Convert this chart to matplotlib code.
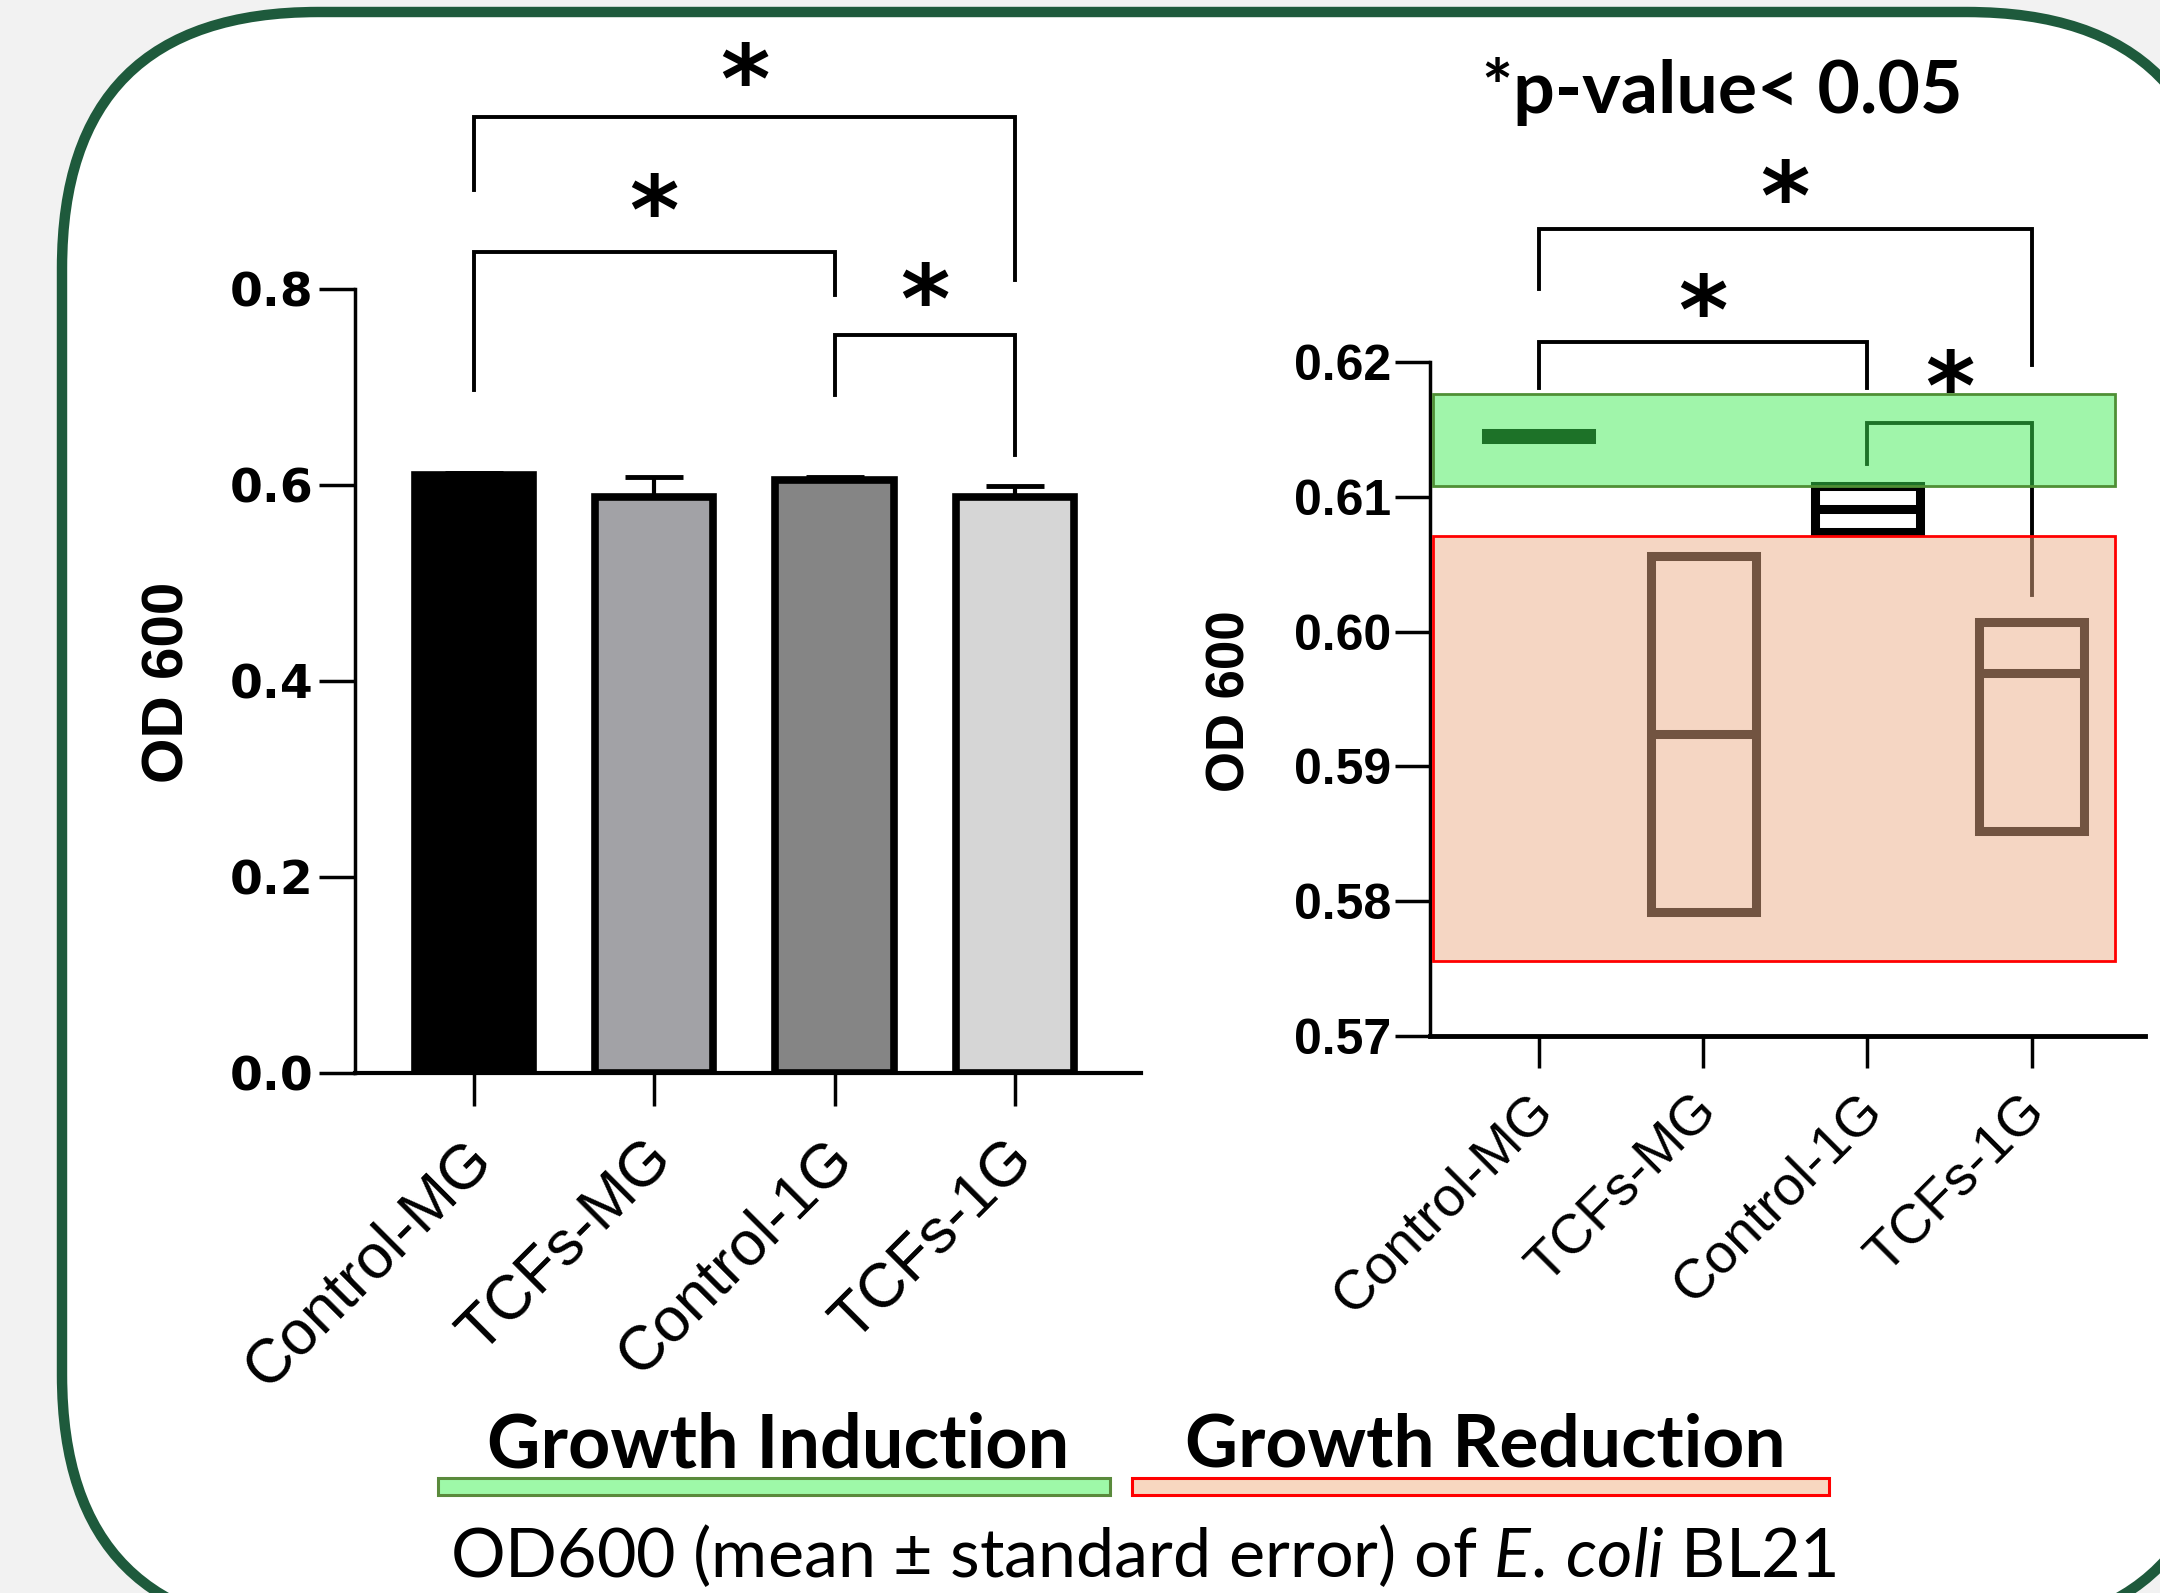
import matplotlib
matplotlib.use("Agg")
import matplotlib.pyplot as plt
import matplotlib.transforms as mtransforms
from matplotlib.patches import FancyBboxPatch, Rectangle
import numpy as np

plt.rcParams["mathtext.fontset"] = "custom"
plt.rcParams["mathtext.rm"] = "Lato"
plt.rcParams["mathtext.it"] = "Lato:italic"
plt.rcParams["mathtext.bf"] = "Lato:bold"

W, H, DPI = 2160, 1593, 100

# ---------------- data ----------------
categories = ["Control-MG", "TCFs-MG", "Control-1G", "TCFs-1G"]
bar_means = [0.610, 0.588, 0.605, 0.588]
bar_se = [0.002, 0.020, 0.003, 0.011]
bar_colors = ["#000000", "#a2a2a6", "#858585", "#d6d6d6"]
left_yticks = [0.0, 0.2, 0.4, 0.6, 0.8]

box_low = [0.6143, 0.5792, 0.6074, 0.5852]
box_high = [0.6147, 0.6056, 0.6108, 0.6007]
box_mid = [0.6145, 0.5924, 0.6091, 0.5969]
right_yticks = [0.57, 0.58, 0.59, 0.60, 0.61, 0.62]

induction_band = [0.6108, 0.6176]
reduction_band = [0.5756, 0.6071]

# brackets: x1, x2, y of bar, y of left end, y of right end, y of star
left_brackets = [(0, 3, 0.9755, 0.901, 0.809, 1.032),
                 (0, 2, 0.838, 0.697, 0.794, 0.898),
                 (2, 3, 0.753, 0.692, 0.631, 0.807)]
right_brackets = [(0, 3, 0.6299, 0.6254, 0.6198, 0.6336),
                  (0, 2, 0.6215, 0.6181, 0.6181, 0.6251),
                  (2, 3, 0.6155, 0.6124, 0.6027, 0.6195)]

title_text = "*p-value< 0.05"
legend_labels = ["Growth Induction", "Growth Reduction"]
caption = "OD600 (mean \u00b1 standard error) of $\\mathit{E.\\,coli}$ BL21"

# ---------------- figure ----------------
fig = plt.figure(figsize=(W / DPI, H / DPI), dpi=DPI, facecolor="#f2f2f2")
bg = fig.add_axes([0, 0, 1, 1], zorder=0)
bg.set_xlim(0, W)
bg.set_ylim(H, 0)
bg.axis("off")

border = FancyBboxPatch((62, 12), 2223 - 62, 1631 - 12,
                        boxstyle="round,pad=0,rounding_size=256",
                        fc="white", ec="#1e5a3c", lw=7.5, clip_on=False)
bg.add_patch(border)

def px_axes(x0, y0, x1, y1):
    return fig.add_axes([x0 / W, 1 - y1 / H, (x1 - x0) / W, (y1 - y0) / H], zorder=2)

def star(ax, x, y):
    t = ax.text(x, y, "*", ha="center", va="center", fontsize=68,
                fontweight="bold", family="DejaVu Sans", clip_on=False, zorder=4)
    t.set_transform(t.get_transform() +
                    mtransforms.ScaledTranslation(0, -24 / DPI, fig.dpi_scale_trans))

def shift_labels(labels, dx_px, dy_px=0):
    for lab in labels:
        lab.set_transform(lab.get_transform() +
                          mtransforms.ScaledTranslation(dx_px / DPI, dy_px / DPI, fig.dpi_scale_trans))

# ---------------- left panel: bars ----------------
axL = px_axes(355, 289, 1141, 1073)
axL.patch.set_alpha(0)
xs = np.arange(len(categories))
axL.errorbar(xs, bar_means, yerr=[np.zeros(len(xs)), bar_se], fmt="none",
             ecolor="black", elinewidth=3, capsize=21, capthick=3.5, zorder=2)
axL.bar(xs, bar_means, width=0.655, color=bar_colors, edgecolor="black",
        linewidth=5.5, zorder=3)
axL.set_xlim(-0.66, 3.70)
axL.set_ylim(0, 0.8)
for s in ("top", "right"):
    axL.spines[s].set_visible(False)
axL.spines["left"].set_linewidth(2.5)
axL.spines["bottom"].set_linewidth(3)
axL.spines["left"].set_bounds(0, 0.8)
axL.set_yticks(left_yticks)
axL.set_yticklabels([f"{v:.1f}" for v in left_yticks], fontsize=34,
                    fontweight="bold", family="DejaVu Sans")
axL.tick_params(axis="y", length=26, width=2.5, pad=4)
axL.set_xticks(xs)
axL.set_xticklabels(categories, rotation=45, ha="right", va="top",
                    rotation_mode="anchor", fontsize=45, family="Liberation Sans")
axL.tick_params(axis="x", length=24, width=2.5, pad=16)
shift_labels(axL.get_xticklabels(), -12)
axL.set_ylabel("OD 600", fontsize=42, fontweight="bold", family="Liberation Sans")
axL.yaxis.label.set_va("center")
axL.yaxis.set_label_coords((168 - 355) / (1141 - 355), (1073 - 682) / (1073 - 289))

for x1, x2, yb, yl, yr, ys in left_brackets:
    axL.plot([x1, x1, x2, x2], [yl, yb, yb, yr], color="black", lw=2.8,
             clip_on=False, zorder=4, solid_joinstyle="miter")
    star(axL, (x1 + x2) / 2, ys)

# ---------------- right panel: floating boxes ----------------
axR = px_axes(1430, 362, 2145, 1036)
axR.patch.set_alpha(0)
bw = 0.64
heights = [h - l for h, l in zip(box_high, box_low)]
axR.bar(xs, heights, bottom=box_low, width=bw, fill=False, edgecolor="black",
        linewidth=6.5, zorder=3)
axR.hlines(box_mid, xs - bw / 2, xs + bw / 2, colors="black", linewidth=6.5, zorder=3)
axR.set_xlim(-0.663, 3.69)
axR.set_ylim(0.57, 0.62)
for s in ("top", "right"):
    axR.spines[s].set_visible(False)
axR.spines["left"].set_linewidth(2.5)
axR.spines["bottom"].set_linewidth(3.5)
axR.spines["left"].set_bounds(0.57, 0.62)
axR.set_yticks(right_yticks)
axR.set_yticklabels([f"{v:.2f}" for v in right_yticks], fontsize=36,
                    fontweight="bold", family="Liberation Sans")
axR.tick_params(axis="y", length=25, width=2.5, pad=3)
axR.set_xticks(xs)
axR.set_xticklabels(categories, rotation=45, ha="right", va="top",
                    rotation_mode="anchor", fontsize=40, family="Liberation Sans")
axR.tick_params(axis="x", length=23, width=2.5, pad=12)
shift_labels(axR.get_xticklabels(), -12)
axR.set_ylabel("OD 600", fontsize=38, fontweight="bold", family="Liberation Sans")
axR.yaxis.label.set_va("center")
axR.yaxis.set_label_coords((1230 - 1430) / (2145 - 1430), (1036 - 701) / (1036 - 362))

for x1, x2, yb, yl, yr, ys in right_brackets:
    axR.plot([x1, x1, x2, x2], [yl, yb, yb, yr], color="black", lw=2.8,
             clip_on=False, zorder=4, solid_joinstyle="miter")
    star(axR, (x1 + x2) / 2, ys)

# translucent highlight bands
band_x0, band_x1 = -0.645, 3.505
for (lo, hi), face, edge in [(induction_band, (61 / 255, 235 / 255, 82 / 255), "#4f8f35"),
                             (reduction_band, (235 / 255, 173 / 255, 133 / 255), "#ff0000")]:
    axR.add_patch(Rectangle((band_x0, lo), band_x1 - band_x0, hi - lo, fc=face,
                            alpha=0.49, ec="none", zorder=5, clip_on=False))
    axR.add_patch(Rectangle((band_x0, lo), band_x1 - band_x0, hi - lo, fill=False,
                            ec=edge, lw=2, zorder=6, clip_on=False))

# ---------------- texts & legend ----------------
renderer = fig.canvas.get_renderer()

def fit(t, target_w):
    bb = t.get_window_extent(renderer)
    t.set_fontsize(t.get_fontsize() * target_w / bb.width)

t = bg.text(1722, 92, title_text, ha="center", va="center", fontsize=50,
            fontweight="bold", family="Lato")
fit(t, 482)

t1 = bg.text(778, 1446, legend_labels[0], ha="center", va="center", fontsize=50,
             fontweight="bold", family="Lato")
fit(t1, 583)
t2 = bg.text(1485, 1446, legend_labels[1], ha="center", va="center", fontsize=50,
             fontweight="bold", family="Lato")
fit(t2, 602)

bg.add_patch(Rectangle((438, 1478), 672, 17, fc="#9ef9a8", ec="#5a8a3c", lw=2.2))
bg.add_patch(Rectangle((1132, 1478), 697, 17, fc="#f8d7c0", ec="#ff0000", lw=2.2))

tc = bg.text(1143, 1556, caption, ha="center", va="center", fontsize=45, family="Lato")
fit(tc, 1386)

fig.savefig("out.png", dpi=DPI, facecolor=fig.get_facecolor())
